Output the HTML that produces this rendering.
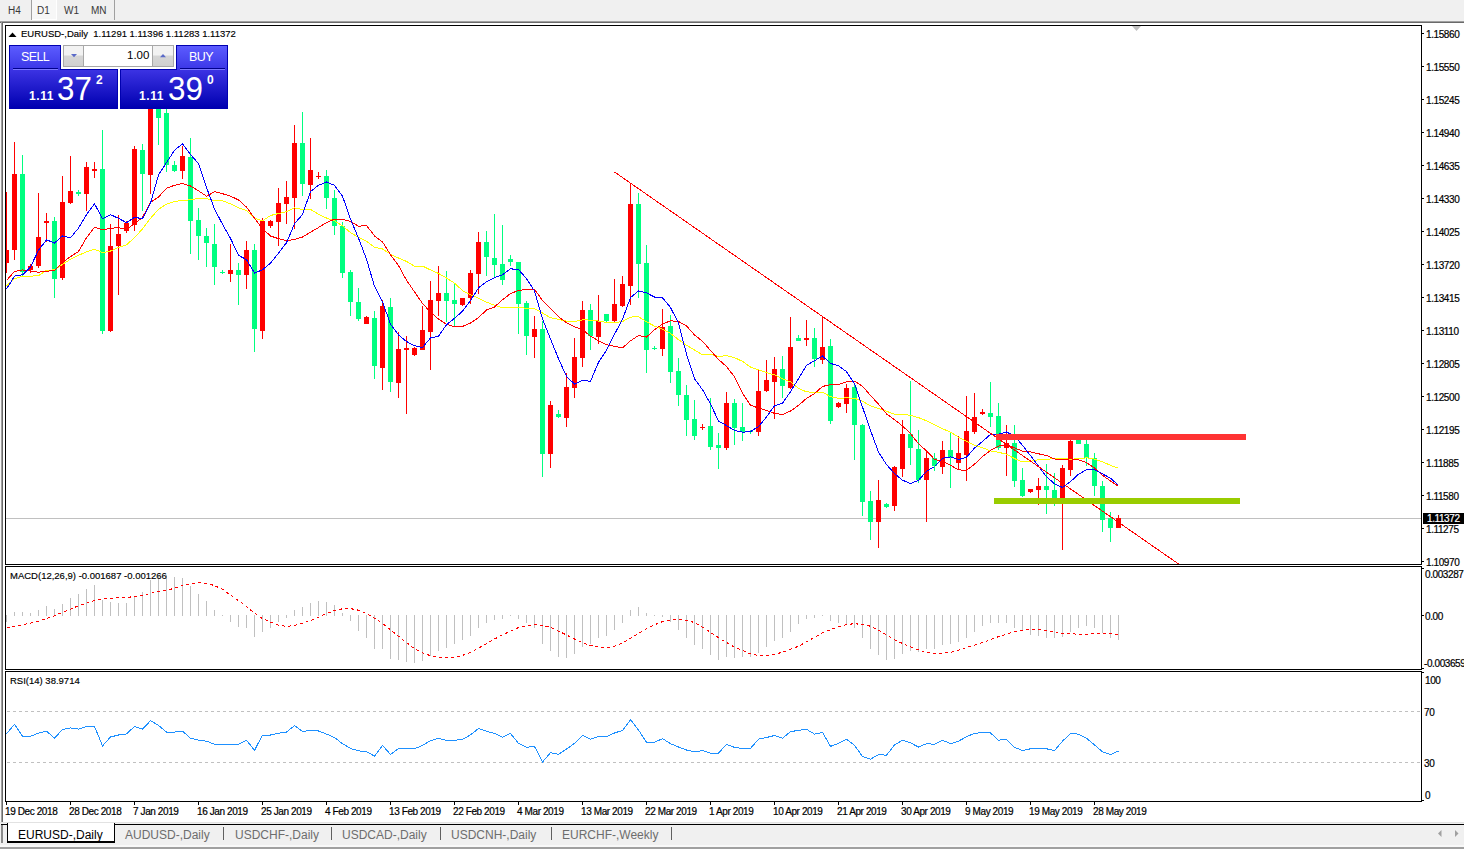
<!DOCTYPE html>
<html><head><meta charset="utf-8"><style>
*{margin:0;padding:0;box-sizing:border-box}
html,body{width:1464px;height:849px;overflow:hidden;background:#fff;font-family:"Liberation Sans",sans-serif;position:relative}
.ax{position:absolute;font-size:10px;line-height:11px;color:#000;white-space:nowrap;letter-spacing:-0.4px;-webkit-text-stroke:0.2px #000}
.cur{background:#000;color:#fff;padding:0 0 0 4px;width:41px;height:11px;-webkit-text-stroke:0.2px #fff}
.tb{position:absolute;left:0;top:0;width:1464px;height:21px;background:#f0f0f0}
.tbt{position:absolute;top:5px;font-size:10px;line-height:12px;color:#383838}
.hdr{position:absolute;top:28px;font-size:9.5px;line-height:11px;color:#000;white-space:nowrap;-webkit-text-stroke:0.15px #000}
.ind{position:absolute;font-size:9.5px;line-height:11px;color:#000;white-space:nowrap;left:10px;-webkit-text-stroke:0.15px #000}
.pt{position:absolute;font-size:12.5px;line-height:14px;color:#fff;white-space:nowrap}
.ps{position:absolute;font-size:12px;line-height:14px;color:#fff;font-weight:bold;white-space:nowrap}
.pb{position:absolute;font-size:33px;line-height:34px;color:#fff;white-space:nowrap;transform:scaleX(0.95);transform-origin:0 0}
.tabs{position:absolute;left:0;top:822px;width:1464px;height:27px;background:#f0f0f0}
.sep{position:absolute;top:827px;width:1px;height:13px;background:#606060}
.tab{position:absolute;top:827px;font-size:12px;line-height:16px;color:#6d6d6d;white-space:nowrap}
</style></head><body>
<div class="tb"></div>
<div style="position:absolute;left:0;top:21px;width:1px;height:801px;background:#f7f7f7"></div>
<div style="position:absolute;left:31px;top:0;width:1px;height:20px;background:#a0a0a0"></div>
<div style="position:absolute;left:32px;top:0;width:25px;height:20px;background:#f7f7f7;border-right:1px solid #fff;border-bottom:1px solid #fff"></div>
<div style="position:absolute;left:114px;top:0;width:1px;height:20px;background:#a0a0a0"></div>
<div class="tbt" style="left:8px">H4</div>
<div class="tbt" style="left:37px">D1</div>
<div class="tbt" style="left:64px">W1</div>
<div class="tbt" style="left:91px">MN</div>
<div style="position:absolute;left:0;top:21px;width:1464px;height:1px;background:#a0a0a0"></div>
<div style="position:absolute;left:0;top:22px;width:1464px;height:1px;background:#6a6a6a"></div>
<div style="position:absolute;left:1px;top:22px;width:1px;height:800px;background:#a0a0a0"></div>
<div style="position:absolute;left:2px;top:22px;width:1px;height:800px;background:#6a6a6a"></div>
<svg width="1464" height="849" style="position:absolute;left:0;top:0"><clipPath id="cm"><rect x="6" y="26" width="1415" height="538"/></clipPath><clipPath id="cmacd"><rect x="6" y="567" width="1415" height="102"/></clipPath><clipPath id="crsi"><rect x="6" y="672" width="1415" height="129"/></clipPath><rect x="6" y="518" width="1415" height="1" fill="#c0c0c0" shape-rendering="crispEdges"/><g clip-path="url(#cm)" shape-rendering="crispEdges"><rect x="6" y="192" width="1" height="81" fill="#ff0000"/><rect x="4" y="250" width="5" height="13" fill="#ff0000"/><rect x="14" y="142" width="1" height="118" fill="#ff0000"/><rect x="12" y="174" width="5" height="76" fill="#ff0000"/><rect x="22" y="155" width="1" height="121" fill="#00ff80"/><rect x="20" y="174" width="5" height="98" fill="#00ff80"/><rect x="30" y="264" width="1" height="9" fill="#ff0000"/><rect x="28" y="266" width="5" height="4" fill="#ff0000"/><rect x="38" y="193" width="1" height="75" fill="#ff0000"/><rect x="36" y="237" width="5" height="29" fill="#ff0000"/><rect x="46" y="213" width="1" height="29" fill="#ff0000"/><rect x="44" y="221" width="5" height="2" fill="#ff0000"/><rect x="54" y="217" width="1" height="81" fill="#00ff80"/><rect x="52" y="221" width="5" height="58" fill="#00ff80"/><rect x="62" y="176" width="1" height="104" fill="#ff0000"/><rect x="60" y="202" width="5" height="76" fill="#ff0000"/><rect x="70" y="156" width="1" height="48" fill="#ff0000"/><rect x="68" y="191" width="5" height="12" fill="#ff0000"/><rect x="78" y="190" width="1" height="6" fill="#00ff80"/><rect x="76" y="192" width="5" height="2" fill="#00ff80"/><rect x="86" y="162" width="1" height="49" fill="#ff0000"/><rect x="84" y="167" width="5" height="27" fill="#ff0000"/><rect x="94" y="162" width="1" height="16" fill="#ff0000"/><rect x="92" y="169" width="5" height="2" fill="#ff0000"/><rect x="102" y="130" width="1" height="204" fill="#00ff80"/><rect x="100" y="169" width="5" height="162" fill="#00ff80"/><rect x="110" y="224" width="1" height="108" fill="#ff0000"/><rect x="108" y="246" width="5" height="85" fill="#ff0000"/><rect x="118" y="215" width="1" height="80" fill="#ff0000"/><rect x="116" y="234" width="5" height="12" fill="#ff0000"/><rect x="126" y="221" width="1" height="12" fill="#ff0000"/><rect x="124" y="223" width="5" height="8" fill="#ff0000"/><rect x="134" y="146" width="1" height="85" fill="#ff0000"/><rect x="132" y="149" width="5" height="76" fill="#ff0000"/><rect x="142" y="144" width="1" height="67" fill="#00ff80"/><rect x="140" y="150" width="5" height="24" fill="#00ff80"/><rect x="150" y="70" width="1" height="124" fill="#ff0000"/><rect x="148" y="75" width="5" height="100" fill="#ff0000"/><rect x="158" y="70" width="1" height="75" fill="#00ff80"/><rect x="156" y="75" width="5" height="43" fill="#00ff80"/><rect x="166" y="100" width="1" height="72" fill="#00ff80"/><rect x="164" y="113" width="5" height="52" fill="#00ff80"/><rect x="174" y="161" width="1" height="11" fill="#00ff80"/><rect x="172" y="165" width="5" height="6" fill="#00ff80"/><rect x="182" y="146" width="1" height="33" fill="#ff0000"/><rect x="180" y="156" width="5" height="15" fill="#ff0000"/><rect x="190" y="138" width="1" height="116" fill="#00ff80"/><rect x="188" y="157" width="5" height="64" fill="#00ff80"/><rect x="198" y="208" width="1" height="52" fill="#00ff80"/><rect x="196" y="220" width="5" height="16" fill="#00ff80"/><rect x="206" y="228" width="1" height="39" fill="#00ff80"/><rect x="204" y="236" width="5" height="7" fill="#00ff80"/><rect x="214" y="224" width="1" height="61" fill="#00ff80"/><rect x="212" y="244" width="5" height="23" fill="#00ff80"/><rect x="222" y="270" width="1" height="4" fill="#00ff80"/><rect x="220" y="272" width="5" height="1" fill="#00ff80"/><rect x="230" y="244" width="1" height="38" fill="#ff0000"/><rect x="228" y="270" width="5" height="4" fill="#ff0000"/><rect x="238" y="263" width="1" height="42" fill="#00ff80"/><rect x="236" y="270" width="5" height="5" fill="#00ff80"/><rect x="246" y="241" width="1" height="48" fill="#ff0000"/><rect x="244" y="250" width="5" height="25" fill="#ff0000"/><rect x="254" y="244" width="1" height="108" fill="#00ff80"/><rect x="252" y="250" width="5" height="79" fill="#00ff80"/><rect x="262" y="218" width="1" height="121" fill="#ff0000"/><rect x="260" y="221" width="5" height="110" fill="#ff0000"/><rect x="270" y="220" width="1" height="8" fill="#ff0000"/><rect x="268" y="221" width="5" height="5" fill="#ff0000"/><rect x="278" y="188" width="1" height="58" fill="#ff0000"/><rect x="276" y="203" width="5" height="19" fill="#ff0000"/><rect x="286" y="181" width="1" height="43" fill="#ff0000"/><rect x="284" y="197" width="5" height="7" fill="#ff0000"/><rect x="294" y="125" width="1" height="104" fill="#ff0000"/><rect x="292" y="143" width="5" height="55" fill="#ff0000"/><rect x="302" y="112" width="1" height="84" fill="#00ff80"/><rect x="300" y="143" width="5" height="41" fill="#00ff80"/><rect x="310" y="138" width="1" height="61" fill="#ff0000"/><rect x="308" y="170" width="5" height="15" fill="#ff0000"/><rect x="318" y="172" width="1" height="7" fill="#ff0000"/><rect x="316" y="176" width="5" height="1" fill="#ff0000"/><rect x="326" y="170" width="1" height="39" fill="#00ff80"/><rect x="324" y="176" width="5" height="22" fill="#00ff80"/><rect x="334" y="190" width="1" height="45" fill="#00ff80"/><rect x="332" y="198" width="5" height="28" fill="#00ff80"/><rect x="342" y="222" width="1" height="56" fill="#00ff80"/><rect x="340" y="226" width="5" height="47" fill="#00ff80"/><rect x="350" y="270" width="1" height="46" fill="#00ff80"/><rect x="348" y="272" width="5" height="30" fill="#00ff80"/><rect x="358" y="288" width="1" height="33" fill="#00ff80"/><rect x="356" y="302" width="5" height="17" fill="#00ff80"/><rect x="366" y="316" width="1" height="8" fill="#ff0000"/><rect x="364" y="317" width="5" height="7" fill="#ff0000"/><rect x="374" y="311" width="1" height="68" fill="#00ff80"/><rect x="372" y="318" width="5" height="48" fill="#00ff80"/><rect x="382" y="300" width="1" height="90" fill="#ff0000"/><rect x="380" y="306" width="5" height="62" fill="#ff0000"/><rect x="390" y="298" width="1" height="94" fill="#00ff80"/><rect x="388" y="307" width="5" height="75" fill="#00ff80"/><rect x="398" y="332" width="1" height="66" fill="#ff0000"/><rect x="396" y="349" width="5" height="34" fill="#ff0000"/><rect x="406" y="336" width="1" height="78" fill="#ff0000"/><rect x="404" y="348" width="5" height="2" fill="#ff0000"/><rect x="414" y="347" width="1" height="9" fill="#ff0000"/><rect x="412" y="348" width="5" height="7" fill="#ff0000"/><rect x="422" y="306" width="1" height="44" fill="#ff0000"/><rect x="420" y="330" width="5" height="20" fill="#ff0000"/><rect x="430" y="281" width="1" height="89" fill="#ff0000"/><rect x="428" y="300" width="5" height="32" fill="#ff0000"/><rect x="438" y="266" width="1" height="50" fill="#ff0000"/><rect x="436" y="293" width="5" height="8" fill="#ff0000"/><rect x="446" y="271" width="1" height="51" fill="#00ff80"/><rect x="444" y="293" width="5" height="8" fill="#00ff80"/><rect x="454" y="283" width="1" height="43" fill="#00ff80"/><rect x="452" y="300" width="5" height="4" fill="#00ff80"/><rect x="462" y="298" width="1" height="8" fill="#ff0000"/><rect x="460" y="298" width="5" height="7" fill="#ff0000"/><rect x="470" y="270" width="1" height="34" fill="#ff0000"/><rect x="468" y="273" width="5" height="25" fill="#ff0000"/><rect x="478" y="232" width="1" height="62" fill="#ff0000"/><rect x="476" y="242" width="5" height="32" fill="#ff0000"/><rect x="486" y="231" width="1" height="45" fill="#00ff80"/><rect x="484" y="242" width="5" height="15" fill="#00ff80"/><rect x="494" y="214" width="1" height="63" fill="#00ff80"/><rect x="492" y="258" width="5" height="7" fill="#00ff80"/><rect x="502" y="225" width="1" height="60" fill="#00ff80"/><rect x="500" y="264" width="5" height="16" fill="#00ff80"/><rect x="510" y="255" width="1" height="11" fill="#00ff80"/><rect x="508" y="259" width="5" height="3" fill="#00ff80"/><rect x="518" y="262" width="1" height="72" fill="#00ff80"/><rect x="516" y="262" width="5" height="42" fill="#00ff80"/><rect x="526" y="301" width="1" height="54" fill="#00ff80"/><rect x="524" y="303" width="5" height="33" fill="#00ff80"/><rect x="534" y="316" width="1" height="42" fill="#ff0000"/><rect x="532" y="329" width="5" height="8" fill="#ff0000"/><rect x="542" y="321" width="1" height="156" fill="#00ff80"/><rect x="540" y="329" width="5" height="125" fill="#00ff80"/><rect x="550" y="401" width="1" height="67" fill="#ff0000"/><rect x="548" y="405" width="5" height="49" fill="#ff0000"/><rect x="558" y="410" width="1" height="8" fill="#00ff80"/><rect x="556" y="414" width="5" height="3" fill="#00ff80"/><rect x="566" y="373" width="1" height="54" fill="#ff0000"/><rect x="564" y="387" width="5" height="31" fill="#ff0000"/><rect x="574" y="338" width="1" height="60" fill="#ff0000"/><rect x="572" y="357" width="5" height="31" fill="#ff0000"/><rect x="582" y="301" width="1" height="66" fill="#ff0000"/><rect x="580" y="310" width="5" height="48" fill="#ff0000"/><rect x="590" y="304" width="1" height="46" fill="#00ff80"/><rect x="588" y="310" width="5" height="26" fill="#00ff80"/><rect x="598" y="295" width="1" height="49" fill="#ff0000"/><rect x="596" y="321" width="5" height="16" fill="#ff0000"/><rect x="606" y="314" width="1" height="8" fill="#00ff80"/><rect x="604" y="314" width="5" height="7" fill="#00ff80"/><rect x="614" y="279" width="1" height="43" fill="#ff0000"/><rect x="612" y="304" width="5" height="17" fill="#ff0000"/><rect x="622" y="276" width="1" height="31" fill="#ff0000"/><rect x="620" y="284" width="5" height="22" fill="#ff0000"/><rect x="630" y="184" width="1" height="121" fill="#ff0000"/><rect x="628" y="204" width="5" height="82" fill="#ff0000"/><rect x="638" y="193" width="1" height="105" fill="#00ff80"/><rect x="636" y="204" width="5" height="60" fill="#00ff80"/><rect x="646" y="245" width="1" height="128" fill="#00ff80"/><rect x="644" y="263" width="5" height="87" fill="#00ff80"/><rect x="654" y="346" width="1" height="4" fill="#00ff80"/><rect x="652" y="348" width="5" height="1" fill="#00ff80"/><rect x="662" y="309" width="1" height="47" fill="#ff0000"/><rect x="660" y="327" width="5" height="22" fill="#ff0000"/><rect x="670" y="315" width="1" height="68" fill="#00ff80"/><rect x="668" y="326" width="5" height="46" fill="#00ff80"/><rect x="678" y="358" width="1" height="48" fill="#00ff80"/><rect x="676" y="371" width="5" height="24" fill="#00ff80"/><rect x="686" y="385" width="1" height="51" fill="#00ff80"/><rect x="684" y="395" width="5" height="25" fill="#00ff80"/><rect x="694" y="400" width="1" height="40" fill="#00ff80"/><rect x="692" y="419" width="5" height="17" fill="#00ff80"/><rect x="702" y="424" width="1" height="6" fill="#ff0000"/><rect x="700" y="427" width="5" height="1" fill="#ff0000"/><rect x="710" y="398" width="1" height="52" fill="#00ff80"/><rect x="708" y="426" width="5" height="21" fill="#00ff80"/><rect x="718" y="433" width="1" height="36" fill="#00ff80"/><rect x="716" y="445" width="5" height="3" fill="#00ff80"/><rect x="726" y="392" width="1" height="58" fill="#ff0000"/><rect x="724" y="403" width="5" height="45" fill="#ff0000"/><rect x="734" y="399" width="1" height="46" fill="#00ff80"/><rect x="732" y="403" width="5" height="25" fill="#00ff80"/><rect x="742" y="403" width="1" height="38" fill="#00ff80"/><rect x="740" y="427" width="5" height="5" fill="#00ff80"/><rect x="750" y="430" width="1" height="4" fill="#00ff80"/><rect x="748" y="431" width="5" height="1" fill="#00ff80"/><rect x="758" y="370" width="1" height="66" fill="#ff0000"/><rect x="756" y="391" width="5" height="41" fill="#ff0000"/><rect x="766" y="360" width="1" height="32" fill="#ff0000"/><rect x="764" y="380" width="5" height="11" fill="#ff0000"/><rect x="774" y="357" width="1" height="62" fill="#ff0000"/><rect x="772" y="369" width="5" height="13" fill="#ff0000"/><rect x="782" y="356" width="1" height="42" fill="#00ff80"/><rect x="780" y="369" width="5" height="17" fill="#00ff80"/><rect x="790" y="317" width="1" height="72" fill="#ff0000"/><rect x="788" y="347" width="5" height="41" fill="#ff0000"/><rect x="798" y="335" width="1" height="6" fill="#00ff80"/><rect x="796" y="338" width="5" height="3" fill="#00ff80"/><rect x="806" y="320" width="1" height="26" fill="#ff0000"/><rect x="804" y="338" width="5" height="2" fill="#ff0000"/><rect x="814" y="328" width="1" height="39" fill="#00ff80"/><rect x="812" y="338" width="5" height="21" fill="#00ff80"/><rect x="822" y="317" width="1" height="47" fill="#ff0000"/><rect x="820" y="347" width="5" height="13" fill="#ff0000"/><rect x="830" y="339" width="1" height="85" fill="#00ff80"/><rect x="828" y="346" width="5" height="75" fill="#00ff80"/><rect x="838" y="402" width="1" height="6" fill="#ff0000"/><rect x="836" y="403" width="5" height="4" fill="#ff0000"/><rect x="846" y="384" width="1" height="29" fill="#ff0000"/><rect x="844" y="388" width="5" height="16" fill="#ff0000"/><rect x="854" y="385" width="1" height="75" fill="#00ff80"/><rect x="852" y="387" width="5" height="38" fill="#00ff80"/><rect x="862" y="424" width="1" height="92" fill="#00ff80"/><rect x="860" y="425" width="5" height="77" fill="#00ff80"/><rect x="870" y="491" width="1" height="49" fill="#00ff80"/><rect x="868" y="501" width="5" height="21" fill="#00ff80"/><rect x="878" y="480" width="1" height="68" fill="#ff0000"/><rect x="876" y="500" width="5" height="22" fill="#ff0000"/><rect x="886" y="503" width="1" height="5" fill="#00ff80"/><rect x="884" y="504" width="5" height="3" fill="#00ff80"/><rect x="894" y="466" width="1" height="45" fill="#ff0000"/><rect x="892" y="467" width="5" height="39" fill="#ff0000"/><rect x="902" y="420" width="1" height="57" fill="#ff0000"/><rect x="900" y="434" width="5" height="35" fill="#ff0000"/><rect x="910" y="381" width="1" height="84" fill="#00ff80"/><rect x="908" y="434" width="5" height="14" fill="#00ff80"/><rect x="918" y="430" width="1" height="53" fill="#00ff80"/><rect x="916" y="449" width="5" height="31" fill="#00ff80"/><rect x="926" y="451" width="1" height="71" fill="#ff0000"/><rect x="924" y="458" width="5" height="22" fill="#ff0000"/><rect x="934" y="453" width="1" height="18" fill="#00ff80"/><rect x="932" y="458" width="5" height="8" fill="#00ff80"/><rect x="942" y="441" width="1" height="33" fill="#ff0000"/><rect x="940" y="450" width="5" height="17" fill="#ff0000"/><rect x="950" y="432" width="1" height="56" fill="#00ff80"/><rect x="948" y="450" width="5" height="8" fill="#00ff80"/><rect x="958" y="436" width="1" height="33" fill="#ff0000"/><rect x="956" y="453" width="5" height="10" fill="#ff0000"/><rect x="966" y="396" width="1" height="85" fill="#ff0000"/><rect x="964" y="431" width="5" height="24" fill="#ff0000"/><rect x="974" y="393" width="1" height="41" fill="#ff0000"/><rect x="972" y="417" width="5" height="15" fill="#ff0000"/><rect x="982" y="409" width="1" height="6" fill="#ff0000"/><rect x="980" y="412" width="5" height="2" fill="#ff0000"/><rect x="990" y="382" width="1" height="45" fill="#00ff80"/><rect x="988" y="413" width="5" height="4" fill="#00ff80"/><rect x="998" y="403" width="1" height="47" fill="#00ff80"/><rect x="996" y="416" width="5" height="32" fill="#00ff80"/><rect x="1006" y="425" width="1" height="51" fill="#ff0000"/><rect x="1004" y="443" width="5" height="5" fill="#ff0000"/><rect x="1014" y="425" width="1" height="62" fill="#00ff80"/><rect x="1012" y="443" width="5" height="38" fill="#00ff80"/><rect x="1022" y="468" width="1" height="29" fill="#00ff80"/><rect x="1020" y="480" width="5" height="16" fill="#00ff80"/><rect x="1030" y="489" width="1" height="4" fill="#ff0000"/><rect x="1028" y="489" width="5" height="3" fill="#ff0000"/><rect x="1038" y="478" width="1" height="27" fill="#ff0000"/><rect x="1036" y="486" width="5" height="4" fill="#ff0000"/><rect x="1046" y="464" width="1" height="50" fill="#00ff80"/><rect x="1044" y="486" width="5" height="4" fill="#00ff80"/><rect x="1054" y="473" width="1" height="33" fill="#00ff80"/><rect x="1052" y="490" width="5" height="8" fill="#00ff80"/><rect x="1062" y="465" width="1" height="85" fill="#ff0000"/><rect x="1060" y="468" width="5" height="30" fill="#ff0000"/><rect x="1070" y="439" width="1" height="37" fill="#ff0000"/><rect x="1068" y="441" width="5" height="29" fill="#ff0000"/><rect x="1078" y="438" width="1" height="6" fill="#00ff80"/><rect x="1076" y="440" width="5" height="4" fill="#00ff80"/><rect x="1086" y="440" width="1" height="26" fill="#00ff80"/><rect x="1084" y="444" width="5" height="14" fill="#00ff80"/><rect x="1094" y="453" width="1" height="43" fill="#00ff80"/><rect x="1092" y="458" width="5" height="28" fill="#00ff80"/><rect x="1102" y="481" width="1" height="51" fill="#00ff80"/><rect x="1100" y="486" width="5" height="34" fill="#00ff80"/><rect x="1110" y="512" width="1" height="30" fill="#00ff80"/><rect x="1108" y="518" width="5" height="10" fill="#00ff80"/><rect x="1118" y="515" width="1" height="13" fill="#ff0000"/><rect x="1116" y="518" width="5" height="10" fill="#ff0000"/></g><polyline clip-path="url(#cm)" points="6.5,285.8 14.5,278.7 22.5,276.1 30.5,276.1 38.5,275.8 46.5,270.3 54.5,269.9 62.5,264.4 70.5,259.2 78.5,255.4 86.5,251.8 94.5,249.2 102.5,252.7 110.5,251.0 118.5,247.4 126.5,244.8 134.5,237.7 142.5,228.9 150.5,218.3 158.5,209.4 166.5,204.1 174.5,201.5 182.5,200.3 190.5,199.9 198.5,198.4 206.5,198.7 214.5,200.9 222.5,200.7 230.5,203.9 238.5,207.9 246.5,210.6 254.5,218.3 262.5,220.8 270.5,215.5 278.5,213.5 286.5,211.7 294.5,207.9 302.5,209.5 310.5,209.4 318.5,214.2 326.5,218.0 334.5,220.9 342.5,225.8 350.5,232.7 358.5,237.4 366.5,241.3 374.5,247.2 382.5,249.0 390.5,254.2 398.5,258.0 406.5,261.4 414.5,266.1 422.5,266.1 430.5,269.9 438.5,273.4 446.5,278.0 454.5,283.1 462.5,290.6 470.5,294.8 478.5,298.2 486.5,302.1 494.5,305.3 502.5,307.9 510.5,307.4 518.5,307.4 526.5,308.3 534.5,308.8 542.5,313.0 550.5,317.7 558.5,319.4 566.5,321.2 574.5,321.6 582.5,319.8 590.5,320.1 598.5,321.1 606.5,322.4 614.5,322.5 622.5,321.6 630.5,317.1 638.5,316.6 646.5,321.8 654.5,326.1 662.5,329.1 670.5,333.4 678.5,339.7 686.5,345.3 694.5,350.0 702.5,354.7 710.5,354.4 718.5,356.4 726.5,355.7 734.5,357.7 742.5,361.3 750.5,367.1 758.5,369.7 766.5,372.6 774.5,374.9 782.5,378.8 790.5,381.8 798.5,388.3 806.5,391.9 814.5,392.3 822.5,392.2 830.5,396.7 838.5,398.2 846.5,397.9 854.5,398.2 862.5,401.3 870.5,405.8 878.5,408.4 886.5,411.2 894.5,414.3 902.5,414.5 910.5,415.3 918.5,417.6 926.5,420.8 934.5,424.9 942.5,428.7 950.5,432.1 958.5,437.1 966.5,441.4 974.5,445.2 982.5,447.7 990.5,451.0 998.5,452.3 1006.5,454.2 1014.5,458.6 1022.5,462.0 1030.5,461.4 1038.5,459.7 1046.5,459.2 1054.5,458.8 1062.5,458.8 1070.5,459.1 1078.5,458.9 1086.5,457.8 1094.5,459.1 1102.5,461.7 1110.5,465.4 1118.5,468.2" fill="none" stroke="#ffff00" stroke-width="1" shape-rendering="crispEdges"/><polyline clip-path="url(#cm)" points="6.5,280.5 14.5,271.5 22.5,269.9 30.5,270.9 38.5,272.2 46.5,271.2 54.5,270.7 62.5,262.5 70.5,256.6 78.5,251.5 86.5,237.7 94.5,227.1 102.5,229.8 110.5,228.5 118.5,227.5 126.5,229.8 134.5,223.5 142.5,217.4 150.5,202.4 158.5,197.1 166.5,188.2 174.5,185.3 182.5,183.5 190.5,186.0 198.5,190.9 206.5,196.2 214.5,191.7 222.5,193.7 230.5,196.2 238.5,199.9 246.5,207.1 254.5,218.2 262.5,228.6 270.5,236.0 278.5,238.7 286.5,240.6 294.5,239.6 302.5,237.0 310.5,232.3 318.5,227.5 326.5,222.6 334.5,219.2 342.5,219.4 350.5,221.4 358.5,226.3 366.5,225.4 374.5,235.9 382.5,241.9 390.5,254.7 398.5,265.6 406.5,280.2 414.5,291.9 422.5,303.4 430.5,312.2 438.5,319.1 446.5,324.4 454.5,326.6 462.5,326.4 470.5,323.1 478.5,317.7 486.5,309.9 494.5,307.0 502.5,299.7 510.5,293.6 518.5,290.4 526.5,289.5 534.5,289.5 542.5,300.4 550.5,308.4 558.5,316.7 566.5,322.7 574.5,326.8 582.5,329.5 590.5,336.2 598.5,340.7 606.5,344.7 614.5,346.4 622.5,347.9 630.5,340.8 638.5,335.6 646.5,337.1 654.5,329.7 662.5,324.1 670.5,320.8 678.5,321.4 686.5,325.9 694.5,334.9 702.5,341.3 710.5,350.4 718.5,359.4 726.5,366.5 734.5,376.9 742.5,393.2 750.5,405.2 758.5,408.1 766.5,410.4 774.5,413.4 782.5,414.5 790.5,411.1 798.5,405.4 806.5,398.4 814.5,393.6 822.5,386.5 830.5,384.6 838.5,384.6 846.5,381.7 854.5,381.2 862.5,386.2 870.5,395.5 878.5,404.1 886.5,413.9 894.5,419.7 902.5,425.9 910.5,433.6 918.5,443.8 926.5,450.8 934.5,459.3 942.5,461.4 950.5,465.3 958.5,469.9 966.5,470.3 974.5,464.2 982.5,456.4 990.5,450.4 998.5,446.2 1006.5,444.5 1014.5,447.8 1022.5,451.2 1030.5,451.8 1038.5,453.8 1046.5,455.5 1054.5,459.0 1062.5,459.7 1070.5,458.8 1078.5,459.8 1086.5,462.7 1094.5,467.9 1102.5,475.3 1110.5,481.0 1118.5,486.4" fill="none" stroke="#ff0000" stroke-width="1" shape-rendering="crispEdges"/><polyline clip-path="url(#cm)" points="6.5,289.1 14.5,276.1 22.5,274.8 30.5,267.0 38.5,250.2 46.5,239.8 54.5,243.0 62.5,235.9 70.5,237.8 78.5,228.1 86.5,214.7 94.5,203.8 102.5,218.6 110.5,214.7 118.5,218.3 126.5,222.7 134.5,217.4 142.5,218.6 150.5,203.3 158.5,175.0 166.5,162.6 174.5,150.3 182.5,143.8 190.5,154.6 198.5,163.5 206.5,187.5 214.5,208.9 222.5,224.3 230.5,238.4 238.5,255.4 246.5,259.6 254.5,273.0 262.5,269.8 270.5,263.1 278.5,253.1 286.5,242.7 294.5,223.8 302.5,214.4 310.5,191.6 318.5,185.3 326.5,182.0 334.5,185.3 342.5,196.2 350.5,219.0 358.5,238.2 366.5,259.2 374.5,286.4 382.5,301.9 390.5,324.1 398.5,335.0 406.5,341.5 414.5,345.7 422.5,347.5 430.5,338.0 438.5,336.2 446.5,324.7 454.5,318.3 462.5,311.2 470.5,300.5 478.5,287.9 486.5,281.8 494.5,277.7 502.5,274.8 510.5,268.8 518.5,269.6 526.5,278.6 534.5,291.0 542.5,319.0 550.5,339.1 558.5,358.6 566.5,376.5 574.5,384.0 582.5,380.3 590.5,381.4 598.5,362.3 606.5,350.4 614.5,334.2 622.5,319.4 630.5,297.6 638.5,291.0 646.5,292.9 654.5,297.0 662.5,297.8 670.5,307.4 678.5,323.3 686.5,354.2 694.5,378.8 702.5,389.7 710.5,403.8 718.5,421.1 726.5,425.6 734.5,430.4 742.5,432.2 750.5,431.6 758.5,426.5 766.5,417.0 774.5,405.7 782.5,403.3 790.5,391.7 798.5,378.7 806.5,365.3 814.5,360.7 822.5,356.0 830.5,363.4 838.5,365.8 846.5,371.6 854.5,383.7 862.5,407.1 870.5,430.3 878.5,452.2 886.5,464.5 894.5,473.7 902.5,480.2 910.5,483.5 918.5,480.4 926.5,471.3 934.5,466.5 942.5,458.3 950.5,456.9 958.5,459.6 966.5,457.2 974.5,448.1 982.5,441.5 990.5,434.4 998.5,434.1 1006.5,432.0 1014.5,436.0 1022.5,445.3 1030.5,455.6 1038.5,466.2 1046.5,476.7 1054.5,483.8 1062.5,487.4 1070.5,481.7 1078.5,474.2 1086.5,469.8 1094.5,469.7 1102.5,473.9 1110.5,478.2 1118.5,485.3" fill="none" stroke="#0000ff" stroke-width="1" shape-rendering="crispEdges"/><line clip-path="url(#cm)" x1="614.5" y1="172" x2="1180" y2="565" stroke="#ff0000" stroke-width="1" shape-rendering="crispEdges"/><rect x="996" y="434" width="250" height="6" fill="#ff3333" shape-rendering="crispEdges"/><rect x="994" y="498" width="246" height="6" fill="#99cc00" shape-rendering="crispEdges"/><g clip-path="url(#cmacd)" shape-rendering="crispEdges" fill="#c0c0c0"><rect x="6" y="615" width="1" height="7"/><rect x="14" y="612" width="1" height="4"/><rect x="22" y="612" width="1" height="4"/><rect x="30" y="613" width="1" height="3"/><rect x="38" y="610" width="1" height="6"/><rect x="46" y="606" width="1" height="10"/><rect x="54" y="609" width="1" height="7"/><rect x="62" y="604" width="1" height="12"/><rect x="70" y="598" width="1" height="18"/><rect x="78" y="594" width="1" height="22"/><rect x="86" y="589" width="1" height="27"/><rect x="94" y="585" width="1" height="31"/><rect x="102" y="600" width="1" height="16"/><rect x="110" y="602" width="1" height="14"/><rect x="118" y="603" width="1" height="13"/><rect x="126" y="603" width="1" height="13"/><rect x="134" y="597" width="1" height="19"/><rect x="142" y="592" width="1" height="24"/><rect x="150" y="580" width="1" height="36"/><rect x="158" y="576" width="1" height="40"/><rect x="166" y="575" width="1" height="41"/><rect x="174" y="577" width="1" height="39"/><rect x="182" y="578" width="1" height="38"/><rect x="190" y="586" width="1" height="30"/><rect x="198" y="594" width="1" height="22"/><rect x="206" y="601" width="1" height="15"/><rect x="214" y="610" width="1" height="6"/><rect x="222" y="615" width="1" height="1"/><rect x="230" y="615" width="1" height="7"/><rect x="238" y="615" width="1" height="12"/><rect x="246" y="615" width="1" height="13"/><rect x="254" y="615" width="1" height="22"/><rect x="262" y="615" width="1" height="17"/><rect x="270" y="615" width="1" height="13"/><rect x="278" y="615" width="1" height="7"/><rect x="286" y="615" width="1" height="3"/><rect x="294" y="610" width="1" height="6"/><rect x="302" y="607" width="1" height="9"/><rect x="310" y="603" width="1" height="13"/><rect x="318" y="601" width="1" height="15"/><rect x="326" y="602" width="1" height="14"/><rect x="334" y="605" width="1" height="11"/><rect x="342" y="613" width="1" height="3"/><rect x="350" y="615" width="1" height="6"/><rect x="358" y="615" width="1" height="16"/><rect x="366" y="615" width="1" height="23"/><rect x="374" y="615" width="1" height="34"/><rect x="382" y="615" width="1" height="34"/><rect x="390" y="615" width="1" height="44"/><rect x="398" y="615" width="1" height="45"/><rect x="406" y="615" width="1" height="47"/><rect x="414" y="615" width="1" height="48"/><rect x="422" y="615" width="1" height="46"/><rect x="430" y="615" width="1" height="41"/><rect x="438" y="615" width="1" height="36"/><rect x="446" y="615" width="1" height="33"/><rect x="454" y="615" width="1" height="29"/><rect x="462" y="615" width="1" height="25"/><rect x="470" y="615" width="1" height="21"/><rect x="478" y="615" width="1" height="13"/><rect x="486" y="615" width="1" height="8"/><rect x="494" y="615" width="1" height="5"/><rect x="502" y="615" width="1" height="4"/><rect x="510" y="615" width="1" height="1"/><rect x="518" y="615" width="1" height="4"/><rect x="526" y="615" width="1" height="8"/><rect x="534" y="615" width="1" height="13"/><rect x="542" y="615" width="1" height="29"/><rect x="550" y="615" width="1" height="36"/><rect x="558" y="615" width="1" height="42"/><rect x="566" y="615" width="1" height="43"/><rect x="574" y="615" width="1" height="39"/><rect x="582" y="615" width="1" height="32"/><rect x="590" y="615" width="1" height="29"/><rect x="598" y="615" width="1" height="23"/><rect x="606" y="615" width="1" height="21"/><rect x="614" y="615" width="1" height="15"/><rect x="622" y="615" width="1" height="8"/><rect x="630" y="610" width="1" height="6"/><rect x="638" y="607" width="1" height="9"/><rect x="646" y="613" width="1" height="3"/><rect x="654" y="615" width="1" height="1"/><rect x="662" y="615" width="1" height="2"/><rect x="670" y="615" width="1" height="7"/><rect x="678" y="615" width="1" height="15"/><rect x="686" y="615" width="1" height="23"/><rect x="694" y="615" width="1" height="30"/><rect x="702" y="615" width="1" height="34"/><rect x="710" y="615" width="1" height="40"/><rect x="718" y="615" width="1" height="45"/><rect x="726" y="615" width="1" height="42"/><rect x="734" y="615" width="1" height="43"/><rect x="742" y="615" width="1" height="42"/><rect x="750" y="615" width="1" height="42"/><rect x="758" y="615" width="1" height="38"/><rect x="766" y="615" width="1" height="32"/><rect x="774" y="615" width="1" height="26"/><rect x="782" y="615" width="1" height="23"/><rect x="790" y="615" width="1" height="17"/><rect x="798" y="615" width="1" height="9"/><rect x="806" y="615" width="1" height="4"/><rect x="814" y="615" width="1" height="3"/><rect x="822" y="615" width="1" height="1"/><rect x="830" y="615" width="1" height="6"/><rect x="838" y="615" width="1" height="8"/><rect x="846" y="615" width="1" height="9"/><rect x="854" y="615" width="1" height="13"/><rect x="862" y="615" width="1" height="23"/><rect x="870" y="615" width="1" height="34"/><rect x="878" y="615" width="1" height="40"/><rect x="886" y="615" width="1" height="45"/><rect x="894" y="615" width="1" height="44"/><rect x="902" y="615" width="1" height="39"/><rect x="910" y="615" width="1" height="36"/><rect x="918" y="615" width="1" height="37"/><rect x="926" y="615" width="1" height="34"/><rect x="934" y="615" width="1" height="34"/><rect x="942" y="615" width="1" height="30"/><rect x="950" y="615" width="1" height="29"/><rect x="958" y="615" width="1" height="27"/><rect x="966" y="615" width="1" height="23"/><rect x="974" y="615" width="1" height="17"/><rect x="982" y="615" width="1" height="11"/><rect x="990" y="615" width="1" height="8"/><rect x="998" y="615" width="1" height="8"/><rect x="1006" y="615" width="1" height="8"/><rect x="1014" y="615" width="1" height="13"/><rect x="1022" y="615" width="1" height="16"/><rect x="1030" y="615" width="1" height="20"/><rect x="1038" y="615" width="1" height="21"/><rect x="1046" y="615" width="1" height="23"/><rect x="1054" y="615" width="1" height="23"/><rect x="1062" y="615" width="1" height="22"/><rect x="1070" y="615" width="1" height="17"/><rect x="1078" y="615" width="1" height="13"/><rect x="1086" y="615" width="1" height="11"/><rect x="1094" y="615" width="1" height="13"/><rect x="1102" y="615" width="1" height="18"/><rect x="1110" y="615" width="1" height="23"/><rect x="1118" y="615" width="1" height="25"/></g><polyline clip-path="url(#cmacd)" points="6.5,627.4 14.5,626.4 22.5,624.6 30.5,623.2 38.5,621.2 46.5,618.4 54.5,615.7 62.5,612.4 70.5,609.3 78.5,605.7 86.5,603.3 94.5,600.5 102.5,598.6 110.5,598.2 118.5,597.5 126.5,597.5 134.5,596.5 142.5,595.2 150.5,593.5 158.5,591.4 166.5,590.2 174.5,588.3 182.5,585.5 190.5,583.7 198.5,582.5 206.5,583.5 214.5,585.5 222.5,589.4 230.5,595.1 238.5,600.7 246.5,606.5 254.5,613.2 262.5,618.6 270.5,622.1 278.5,625.3 286.5,626.4 294.5,625.5 302.5,623.4 310.5,620.5 318.5,617.4 326.5,613.4 334.5,610.6 342.5,608.8 350.5,608.6 358.5,610.2 366.5,613.3 374.5,618.2 382.5,623.6 390.5,629.7 398.5,636.3 406.5,642.6 414.5,648.7 422.5,652.9 430.5,655.7 438.5,657.3 446.5,657.5 454.5,657.1 462.5,655.4 470.5,652.4 478.5,648.2 486.5,643.7 494.5,639.0 502.5,634.8 510.5,631.2 518.5,627.6 526.5,625.7 534.5,624.6 542.5,625.4 550.5,627.4 558.5,631.1 566.5,635.0 574.5,639.0 582.5,642.8 590.5,645.4 598.5,646.9 606.5,648.0 614.5,646.3 622.5,643.1 630.5,638.4 638.5,633.5 646.5,628.5 654.5,624.8 662.5,621.6 670.5,619.9 678.5,619.4 686.5,620.5 694.5,622.5 702.5,627.2 710.5,632.3 718.5,637.8 726.5,642.5 734.5,647.2 742.5,650.5 750.5,653.9 758.5,655.5 766.5,655.3 774.5,654.4 782.5,652.2 790.5,649.3 798.5,646.2 806.5,641.9 814.5,637.2 822.5,632.8 830.5,629.6 838.5,626.7 846.5,624.7 854.5,623.6 862.5,624.7 870.5,626.2 878.5,630.1 886.5,635.0 894.5,639.9 902.5,643.5 910.5,646.9 918.5,650.0 926.5,652.3 934.5,653.3 942.5,653.3 950.5,652.3 958.5,650.2 966.5,647.5 974.5,645.1 982.5,642.5 990.5,639.6 998.5,636.6 1006.5,634.3 1014.5,631.6 1022.5,630.4 1030.5,629.5 1038.5,629.5 1046.5,630.6 1054.5,631.8 1062.5,633.3 1070.5,633.6 1078.5,634.3 1086.5,634.5 1094.5,633.5 1102.5,633.5 1110.5,633.5 1118.5,634.5" fill="none" stroke="#ff0000" stroke-width="1" stroke-dasharray="3,3" shape-rendering="crispEdges"/><line x1="7" y1="711.5" x2="1421" y2="711.5" stroke="#c0c0c0" stroke-width="1" stroke-dasharray="3,3" shape-rendering="crispEdges"/><line x1="7" y1="762.5" x2="1421" y2="762.5" stroke="#c0c0c0" stroke-width="1" stroke-dasharray="3,3" shape-rendering="crispEdges"/><polyline clip-path="url(#crsi)" points="6.5,733.6 14.5,724.4 22.5,736.2 30.5,736.2 38.5,733.2 46.5,731.1 54.5,738.1 62.5,729.5 70.5,728.0 78.5,729.1 86.5,726.4 94.5,726.4 102.5,745.9 110.5,737.0 118.5,735.0 126.5,734.0 134.5,726.4 142.5,729.1 150.5,720.7 158.5,725.4 166.5,732.1 174.5,732.1 182.5,731.1 190.5,738.3 198.5,740.1 206.5,741.2 214.5,744.2 222.5,744.2 230.5,744.2 238.5,744.2 246.5,740.1 254.5,750.4 262.5,735.0 270.5,735.0 278.5,733.2 286.5,732.1 294.5,725.6 302.5,731.4 310.5,730.4 318.5,731.0 326.5,734.1 334.5,737.5 342.5,743.7 350.5,748.4 358.5,750.9 366.5,751.5 374.5,756.2 382.5,745.5 390.5,754.4 398.5,748.6 406.5,748.6 414.5,748.6 422.5,745.5 430.5,740.6 438.5,738.4 446.5,740.4 454.5,740.4 462.5,739.3 470.5,734.9 478.5,728.5 486.5,731.3 494.5,733.3 502.5,737.1 510.5,733.5 518.5,743.3 526.5,747.3 534.5,746.4 542.5,762.0 550.5,752.6 558.5,754.4 566.5,749.1 574.5,743.3 582.5,735.3 590.5,739.3 598.5,736.5 606.5,736.5 614.5,733.0 622.5,730.4 630.5,719.7 638.5,730.0 646.5,742.3 654.5,742.3 662.5,738.6 670.5,743.7 678.5,747.0 686.5,750.0 694.5,751.9 702.5,750.5 710.5,753.1 718.5,753.1 726.5,744.3 734.5,747.4 742.5,748.4 750.5,748.4 758.5,739.2 766.5,737.5 774.5,735.5 782.5,738.2 790.5,731.6 798.5,730.4 806.5,729.3 814.5,734.1 822.5,732.4 830.5,746.4 838.5,743.3 846.5,739.2 854.5,745.3 862.5,756.6 870.5,759.3 878.5,754.5 886.5,755.2 894.5,744.9 902.5,740.2 910.5,742.9 918.5,747.0 926.5,743.7 934.5,744.3 942.5,740.2 950.5,743.7 958.5,741.2 966.5,736.7 974.5,733.4 982.5,732.4 990.5,733.0 998.5,740.2 1006.5,739.2 1014.5,747.4 1022.5,750.5 1030.5,748.8 1038.5,748.8 1046.5,748.8 1054.5,750.5 1062.5,741.2 1070.5,733.4 1078.5,734.1 1086.5,738.2 1094.5,744.9 1102.5,751.9 1110.5,754.5 1118.5,751.1" fill="none" stroke="#1e90ff" stroke-width="1" shape-rendering="crispEdges"/><g shape-rendering="crispEdges" fill="none" stroke="#000" stroke-width="1"><rect x="5.5" y="25.5" width="1416" height="539"/><rect x="5.5" y="566.5" width="1416" height="103"/><rect x="5.5" y="671.5" width="1416" height="130"/></g><g shape-rendering="crispEdges" fill="#000"><rect x="1422" y="33" width="2" height="1"/><rect x="1422" y="66" width="2" height="1"/><rect x="1422" y="99" width="2" height="1"/><rect x="1422" y="132" width="2" height="1"/><rect x="1422" y="165" width="2" height="1"/><rect x="1422" y="198" width="2" height="1"/><rect x="1422" y="231" width="2" height="1"/><rect x="1422" y="264" width="2" height="1"/><rect x="1422" y="297" width="2" height="1"/><rect x="1422" y="330" width="2" height="1"/><rect x="1422" y="363" width="2" height="1"/><rect x="1422" y="396" width="2" height="1"/><rect x="1422" y="429" width="2" height="1"/><rect x="1422" y="462" width="2" height="1"/><rect x="1422" y="495" width="2" height="1"/><rect x="1422" y="528" width="2" height="1"/><rect x="1422" y="561" width="2" height="1"/><rect x="1422" y="568" width="2" height="1"/><rect x="1422" y="615" width="2" height="1"/><rect x="1422" y="668" width="2" height="1"/><rect x="1422" y="672" width="2" height="1"/><rect x="1422" y="800" width="2" height="1"/><rect x="6" y="802" width="1" height="3"/><rect x="70" y="802" width="1" height="3"/><rect x="134" y="802" width="1" height="3"/><rect x="198" y="802" width="1" height="3"/><rect x="262" y="802" width="1" height="3"/><rect x="326" y="802" width="1" height="3"/><rect x="390" y="802" width="1" height="3"/><rect x="454" y="802" width="1" height="3"/><rect x="518" y="802" width="1" height="3"/><rect x="582" y="802" width="1" height="3"/><rect x="646" y="802" width="1" height="3"/><rect x="710" y="802" width="1" height="3"/><rect x="774" y="802" width="1" height="3"/><rect x="838" y="802" width="1" height="3"/><rect x="902" y="802" width="1" height="3"/><rect x="966" y="802" width="1" height="3"/><rect x="1030" y="802" width="1" height="3"/><rect x="1094" y="802" width="1" height="3"/></g><polygon points="1132,26 1141,26 1136.5,31" fill="#c0c0c0"/></svg>
<svg width="10" height="6" style="position:absolute;left:8px;top:32px"><polygon points="0.5,5 4.5,0.5 8.5,5" fill="#000"/></svg>

<div style="position:absolute;left:9px;top:45px;width:52px;height:25px;background:linear-gradient(#5c5cff,#3a36e6);border:1px solid #0000b0;border-bottom:none"></div>
<div style="position:absolute;left:176px;top:45px;width:52px;height:25px;background:linear-gradient(#5c5cff,#3a36e6);border:1px solid #0000b0;border-bottom:none"></div>
<div style="position:absolute;left:9px;top:69px;width:109px;height:40px;background:linear-gradient(#3d34e4,#0000b0);border:1px solid #0000b0;border-top:none"></div>
<div style="position:absolute;left:120px;top:69px;width:108px;height:40px;background:linear-gradient(#3d34e4,#0000b0);border:1px solid #0000b0;border-top:none"></div>
<div style="position:absolute;left:60px;top:69px;width:58px;height:1px;background:#0000b0"></div>
<div style="position:absolute;left:120px;top:69px;width:57px;height:1px;background:#0000b0"></div>
<div style="position:absolute;left:13px;top:68px;width:45px;height:1px;background:#00008a"></div>
<div style="position:absolute;left:13px;top:69px;width:45px;height:1px;background:#7a78ff"></div>
<div style="position:absolute;left:180px;top:68px;width:45px;height:1px;background:#00008a"></div>
<div style="position:absolute;left:180px;top:69px;width:45px;height:1px;background:#7a78ff"></div>
<div class="pt" style="left:21px;top:50px;letter-spacing:-0.6px">SELL</div>
<div class="pt" style="left:189px;top:50px;letter-spacing:-0.6px">BUY</div>
<div style="position:absolute;left:63px;top:45px;width:111px;height:22px;background:#fff;border:1px solid #a8a8a8"></div>
<div style="position:absolute;left:64px;top:46px;width:20px;height:20px;background:linear-gradient(#f2f2f2 45%,#d6d6d6 50%,#d0d0d0);border-right:1px solid #a8a8a8"></div>
<div style="position:absolute;left:152px;top:46px;width:21px;height:20px;background:linear-gradient(#f2f2f2 45%,#d6d6d6 50%,#d0d0d0);border-left:1px solid #a8a8a8"></div>
<svg width="8" height="5" style="position:absolute;left:71px;top:54px"><polygon points="0,0 6,0 3,3.2" fill="#5a6ac8"/></svg>
<svg width="8" height="5" style="position:absolute;left:160px;top:54px"><polygon points="0,3.2 6,3.2 3,0" fill="#5a6ac8"/></svg>
<div style="position:absolute;left:127px;top:48px;font-size:11.5px;line-height:14px;color:#000">1.00</div>
<div class="ps" style="left:29px;top:89px;letter-spacing:0.6px">1.11</div>
<div class="pb" style="left:57px;top:72px">37</div>
<div class="ps" style="left:96px;top:73px">2</div>
<div class="ps" style="left:139px;top:89px;letter-spacing:0.6px">1.11</div>
<div class="pb" style="left:168px;top:72px">39</div>
<div class="ps" style="left:207px;top:73px">0</div>
<div class="hdr" style="left:21px">EURUSD-,Daily&nbsp;&nbsp;1.11291 1.11396 1.11283 1.11372</div>
<div class="ind" style="top:570px">MACD(12,26,9) -0.001687 -0.001266</div>
<div class="ind" style="top:675px">RSI(14) 38.9714</div>
<div class="ax" style="left:1426px;top:29px">1.15860</div>
<div class="ax" style="left:1426px;top:62px">1.15550</div>
<div class="ax" style="left:1426px;top:95px">1.15245</div>
<div class="ax" style="left:1426px;top:128px">1.14940</div>
<div class="ax" style="left:1426px;top:161px">1.14635</div>
<div class="ax" style="left:1426px;top:194px">1.14330</div>
<div class="ax" style="left:1426px;top:227px">1.14025</div>
<div class="ax" style="left:1426px;top:260px">1.13720</div>
<div class="ax" style="left:1426px;top:293px">1.13415</div>
<div class="ax" style="left:1426px;top:326px">1.13110</div>
<div class="ax" style="left:1426px;top:359px">1.12805</div>
<div class="ax" style="left:1426px;top:392px">1.12500</div>
<div class="ax" style="left:1426px;top:425px">1.12195</div>
<div class="ax" style="left:1426px;top:458px">1.11885</div>
<div class="ax" style="left:1426px;top:491px">1.11580</div>
<div class="ax" style="left:1426px;top:524px">1.11275</div>
<div class="ax" style="left:1426px;top:557px">1.10970</div>
<div class="ax cur" style="left:1423px;top:513px">1.11372</div>
<div class="ax" style="left:1425px;top:569px">0.003287</div>
<div class="ax" style="left:1425px;top:611px">0.00</div>
<div class="ax" style="left:1424px;top:658px">-0.003659</div>
<div class="ax" style="left:1425px;top:675px">100</div>
<div class="ax" style="left:1424px;top:707px">70</div>
<div class="ax" style="left:1424px;top:758px">30</div>
<div class="ax" style="left:1425px;top:790px">0</div>
<div class="ax" style="left:5px;top:806px">19 Dec 2018</div>
<div class="ax" style="left:69px;top:806px">28 Dec 2018</div>
<div class="ax" style="left:133px;top:806px">7 Jan 2019</div>
<div class="ax" style="left:197px;top:806px">16 Jan 2019</div>
<div class="ax" style="left:261px;top:806px">25 Jan 2019</div>
<div class="ax" style="left:325px;top:806px">4 Feb 2019</div>
<div class="ax" style="left:389px;top:806px">13 Feb 2019</div>
<div class="ax" style="left:453px;top:806px">22 Feb 2019</div>
<div class="ax" style="left:517px;top:806px">4 Mar 2019</div>
<div class="ax" style="left:581px;top:806px">13 Mar 2019</div>
<div class="ax" style="left:645px;top:806px">22 Mar 2019</div>
<div class="ax" style="left:709px;top:806px">1 Apr 2019</div>
<div class="ax" style="left:773px;top:806px">10 Apr 2019</div>
<div class="ax" style="left:837px;top:806px">21 Apr 2019</div>
<div class="ax" style="left:901px;top:806px">30 Apr 2019</div>
<div class="ax" style="left:965px;top:806px">9 May 2019</div>
<div class="ax" style="left:1029px;top:806px">19 May 2019</div>
<div class="ax" style="left:1093px;top:806px">28 May 2019</div>
<div class="tabs"></div>
<div style="position:absolute;left:0;top:822px;width:1464px;height:1px;background:#e2e2e2"></div>
<div style="position:absolute;left:1px;top:824px;width:1463px;height:1px;background:#000"></div>
<div style="position:absolute;left:1px;top:825px;width:2px;height:18px;background:#8a8a8a"></div>
<div style="position:absolute;left:0;top:845px;width:1464px;height:2px;background:#f8f8f8"></div>
<div style="position:absolute;left:0;top:847px;width:1464px;height:2px;background:#a0a0a0"></div>
<div style="position:absolute;left:7px;top:823px;width:108px;height:20px;background:#fff;border:solid #000;border-width:0 1px 2px 1px"></div>
<div class="tab" style="left:18px;color:#000">EURUSD-,Daily</div>
<div class="tab" style="left:125px">AUDUSD-,Daily</div>
<div class="tab" style="left:235px">USDCHF-,Daily</div>
<div class="tab" style="left:342px">USDCAD-,Daily</div>
<div class="tab" style="left:451px">USDCNH-,Daily</div>
<div class="tab" style="left:562px">EURCHF-,Weekly</div>
<div class="sep" style="left:223px"></div>
<div class="sep" style="left:331px"></div>
<div class="sep" style="left:440px"></div>
<div class="sep" style="left:551px"></div>
<div class="sep" style="left:671px"></div>
<svg width="30" height="10" style="position:absolute;left:1434px;top:829px"><polygon points="7.5,1 7.5,8 4,4.5" fill="#a0a0a0"/><polygon points="21,1 21,8 24.5,4.5" fill="#a0a0a0"/></svg>
</body></html>
